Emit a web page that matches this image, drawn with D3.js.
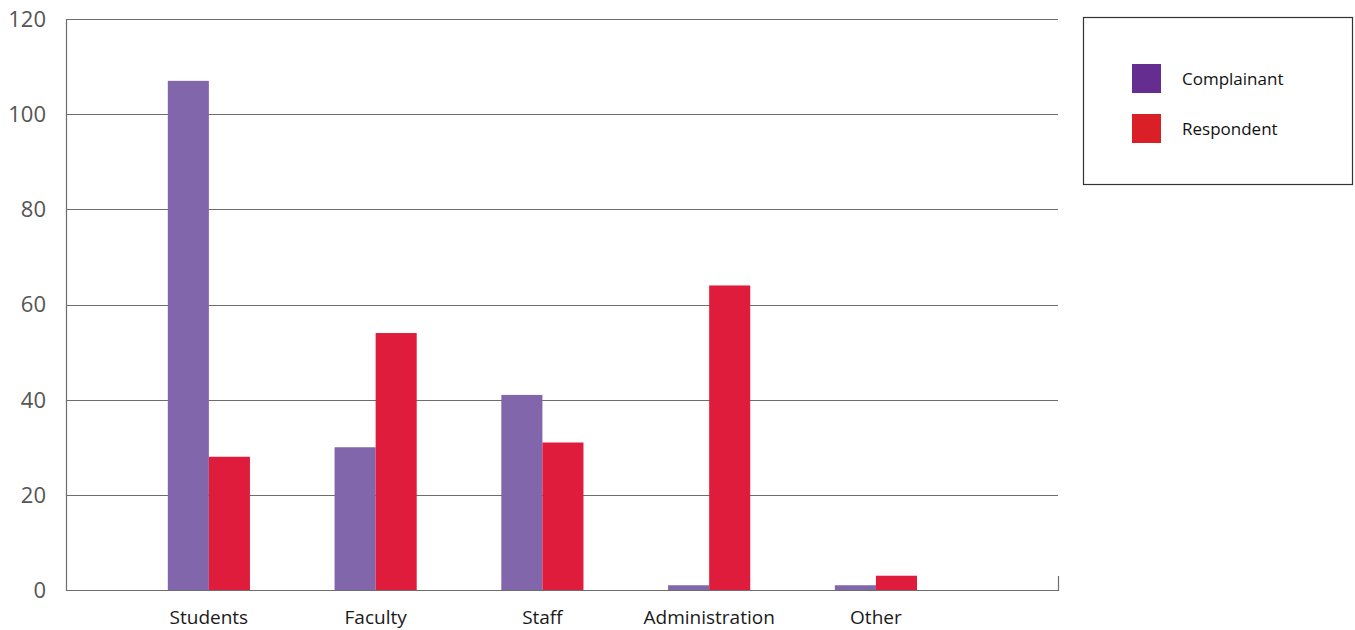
<!DOCTYPE html>
<html>
<head>
<meta charset="utf-8">
<script src="https://cdn.jsdelivr.net/npm/d3@7"></script>
<style>
  body { margin: 0; background: #fff; }
  svg { display: block; font-family: "Open Sans", "Liberation Sans", sans-serif; }
</style>
</head>
<body>
<div id="chart"></div>
<script>
// Chart data
const categories = ["Students", "Faculty", "Staff", "Administration", "Other"];
const seriesNames = ["Complainant", "Respondent"];
const complainant = [107, 30, 41, 1, 1];
const respondent = [28, 54, 31, 64, 3];
const yTicks = [0, 20, 40, 60, 80, 100, 120];

const barColors = { Complainant: "#8266ab", Respondent: "#e01c3c" };
const legendColors = { Complainant: "#662d91", Respondent: "#da1f26" };

const width = 1355, height = 630;
const plot = { left: 66, right: 1058, top: 19, bottom: 590 };

const svg = d3.select("#chart").append("svg")
    .attr("width", width)
    .attr("height", height);

const y = d3.scaleLinear()
    .domain([0, 120])
    .range([plot.bottom, plot.top]);

const x = d3.scaleBand()
    .domain(categories)
    .range([125.5, 959.3])
    .padding(0);

const x1 = d3.scaleBand()
    .domain(seriesNames)
    .range([0, x.bandwidth()])
    .paddingInner(0)
    .paddingOuter(1.03);

// gridlines (drawn under bars)
svg.append("g")
    .selectAll("line")
    .data(yTicks.filter(t => t > 0))
    .join("line")
    .attr("x1", plot.left)
    .attr("x2", plot.right)
    .attr("y1", d => Math.round(y(d)) + 0.5)
    .attr("y2", d => Math.round(y(d)) + 0.5)
    .attr("stroke", "#6d6d6d")
    .attr("stroke-width", 1);

// bars
const rows = categories.map((c, i) => ({
    cat: c,
    values: [
        { name: "Complainant", value: complainant[i] },
        { name: "Respondent", value: respondent[i] }
    ]
}));

svg.append("g")
    .selectAll("g")
    .data(rows)
    .join("g")
    .attr("transform", d => `translate(${x(d.cat)},0)`)
    .selectAll("rect")
    .data(d => d.values)
    .join("rect")
    .attr("x", d => x1(d.name))
    .attr("width", x1.bandwidth())
    .attr("y", d => y(d.value))
    .attr("height", d => y(0) - y(d.value))
    .attr("fill", d => barColors[d.name]);

// axis lines
const axisColor = "#6d6d6d";
svg.append("line")
    .attr("x1", plot.left + 0.5).attr("x2", plot.left + 0.5)
    .attr("y1", plot.top).attr("y2", plot.bottom)
    .attr("stroke", axisColor).attr("stroke-width", 1.2);
svg.append("line")
    .attr("x1", plot.left).attr("x2", plot.right)
    .attr("y1", plot.bottom + 0.5).attr("y2", plot.bottom + 0.5)
    .attr("stroke", axisColor).attr("stroke-width", 1.2);
svg.append("line")
    .attr("x1", plot.right + 0.5).attr("x2", plot.right + 0.5)
    .attr("y1", plot.bottom - 14).attr("y2", plot.bottom + 1)
    .attr("stroke", axisColor).attr("stroke-width", 1.2);

// y tick labels
svg.append("g")
    .selectAll("text")
    .data(yTicks)
    .join("text")
    .attr("x", 46)
    .attr("y", d => y(d))
    .attr("dy", "0.36em")
    .attr("text-anchor", "end")
    .attr("font-size", 22)
    .attr("fill", "#555")
    .text(d => d);

// x category labels
svg.append("g")
    .selectAll("text")
    .data(categories)
    .join("text")
    .attr("x", d => x(d) + x.bandwidth() / 2)
    .attr("y", 624)
    .attr("text-anchor", "middle")
    .attr("font-size", 19)
    .attr("fill", "#1a1a1a")
    .text(d => d);

// legend
const legend = svg.append("g");
legend.append("rect")
    .attr("x", 1083.5).attr("y", 17.5)
    .attr("width", 269).attr("height", 167)
    .attr("fill", "none")
    .attr("stroke", "#333")
    .attr("stroke-width", 1.2);

const legendItem = legend.selectAll("g.item")
    .data(seriesNames)
    .join("g")
    .attr("class", "item")
    .attr("transform", (d, i) => `translate(1132,${64 + i * 50})`);

legendItem.append("rect")
    .attr("width", 29).attr("height", 29)
    .attr("fill", d => legendColors[d]);

legendItem.append("text")
    .attr("x", 50)
    .attr("y", 21)
    .attr("font-size", 17)
    .attr("fill", "#111")
    .text(d => d);
</script>
</body>
</html>
